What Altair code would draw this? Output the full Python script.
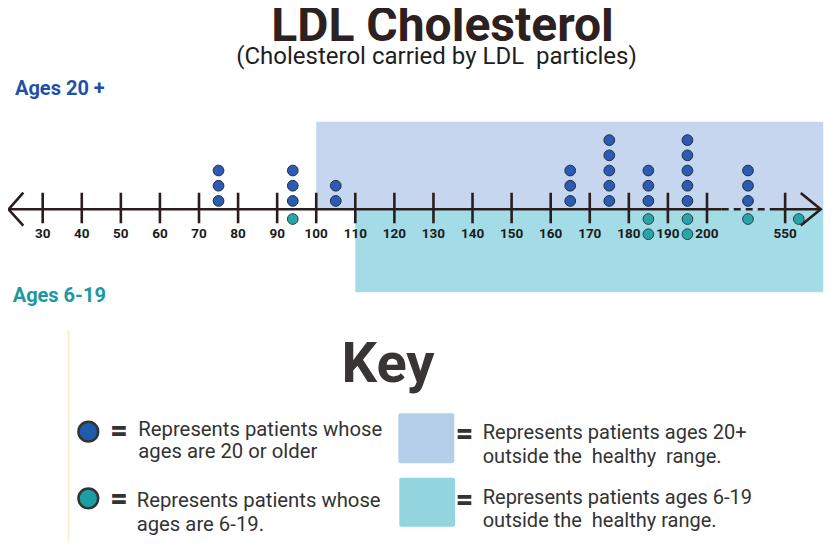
import altair as alt
import pandas as pd

# ---------------- data (positions on the broken number line; 220 stands for 550) -------------
adult_pos = [75, 94, 105, 165, 175, 185, 195, 210.5]
adult_n = [3, 3, 2, 3, 5, 3, 5, 3]
child_pos = [94, 185, 195, 210.5, 223.5]
child_n = [1, 2, 2, 1, 1]
tick_pos = [30, 40, 50, 60, 70, 80, 90, 100, 110, 120, 130, 140, 150, 160, 170, 180, 190, 200, 220]
tick_labels = ["30", "40", "50", "60", "70", "80", "90", "100", "110", "120", "130", "140",
               "150", "160", "170", "180", "190", "200", "550"]
adult_high = [100, 229.76]   # outside healthy range, ages 20+
child_high = [110, 229.76]   # outside healthy range, ages 6-19

# ---------------- tables --------------------------------------------------------------------
dot_rows = []
for p, n in zip(adult_pos, adult_n):
    for k in range(1, n + 1):
        dot_rows.append({"pos": p, "level": k - 0.45, "group": "adult"})
for p, n in zip(child_pos, child_n):
    for k in range(1, n + 1):
        dot_rows.append({"pos": p, "level": -(k - 0.36), "group": "child"})
dots = pd.DataFrame(dot_rows)

ticks = pd.DataFrame({"pos": tick_pos, "label": tick_labels})

X = alt.Scale(domain=[21.12, 230.97], nice=False, zero=False)
Y = alt.Scale(domain=[-22.283, 13.243], nice=False, zero=False)

INK = "#2b1d1d"
NB = "\u00a0"


def xq(f):
    return alt.X(f, type="quantitative", scale=X, axis=None)


def yq(f):
    return alt.Y(f, type="quantitative", scale=Y, axis=None)


rect_adult = alt.Chart(pd.DataFrame({"a": [adult_high[0]], "b": [adult_high[1]], "lo": [0], "hi": [5.763]})).mark_rect(
    color="#c6d6ee").encode(x=xq("a"), x2="b", y=yq("lo"), y2="hi")
rect_child = alt.Chart(pd.DataFrame({"a": [child_high[0]], "b": [child_high[1]], "lo": [-5.46], "hi": [0]})).mark_rect(
    color="#a3dce7").encode(x=xq("a"), x2="b", y=yq("lo"), y2="hi")

line_solid = alt.Chart(pd.DataFrame({"a": [21.25, 216.12], "b": [203.77, 229.1], "y": [0, 0]})).mark_rule(
    color=INK, strokeWidth=2.6).encode(x=xq("a"), x2="b", y=yq("y"))
line_dash = alt.Chart(pd.DataFrame({"a": [203.77], "b": [216.12], "y": [0]})).mark_rule(
    color=INK, strokeWidth=2.6, strokeDash=[7, 5]).encode(x=xq("a"), x2="b", y=yq("y"))

tick_marks = alt.Chart(ticks).transform_calculate(lo="-0.92", hi="1.09").mark_rule(
    color=INK, strokeWidth=2.6).encode(x=xq("pos"), y=yq("lo"), y2="hi")

arrows = alt.Chart(pd.DataFrame({
    "pos": [25.04, 21.25, 25.04, 224.0, 229.1, 224.0],
    "lev": [1.09, 0, -1.07, 1.07, 0, -1.07],
    "arrow": ["L", "L", "L", "R", "R", "R"],
    "o": [0, 1, 2, 0, 1, 2]})).mark_line(color=INK, strokeWidth=2.6).encode(
    x=xq("pos"), y=yq("lev"), detail="arrow:N", order="o:Q")

tick_text = alt.Chart(ticks).transform_calculate(ly="-1.89").mark_text(
    font="Roboto", fontWeight="bold", fontSize=13.5, color="#1a1a1a", baseline="alphabetic").encode(
    x=xq("pos"), y=yq("ly"), text="label:N")

dot_adult = alt.Chart(dots).transform_filter("datum.group == 'adult'").mark_point(
    filled=True, shape="circle", size=115, fill="#2b5cb1", stroke="#1d2d4d", strokeWidth=1, opacity=1).encode(
    x=xq("pos"), y=yq("level"))
dot_child = alt.Chart(dots).transform_filter("datum.group == 'child'").mark_point(
    filled=True, shape="circle", size=115, fill="#2ba3a7", stroke="#29434a", strokeWidth=1, opacity=1).encode(
    x=xq("pos"), y=yq("level"))


# ---------------- annotations & key ---------------------------------------------------------
def label(text, x, y, **kw):
    base = dict(font="Roboto", baseline="alphabetic", align="left")
    base.update(kw)
    return alt.Chart(pd.DataFrame({"t": [text]})).mark_text(**base).encode(
        x=alt.value(x), y=alt.value(y), text="t:N")


annots = [
    label("LDL Cholesterol", 434.5, 32.5, fontSize=48, fontWeight="bold", color="#2d2020", align="center"),
    label("(Cholesterol carried by LDL" + NB + NB + "particles)", 428.5, 56, fontSize=24, color="#1e1e1e",
          align="center"),
    label("Ages 20 +", 7, 87, fontSize=20, fontWeight="bold", color="#1f4fa7"),
    label("Ages 6-19", 4.7, 294.3, fontSize=20, fontWeight="bold", color="#1d97a1"),
    label("Key", 380, 373.7, fontSize=56, fontWeight="bold", color="#3a3535", align="center"),
    label("=", 111, 423, fontSize=30, fontWeight=900, color="#333333", align="center", baseline="middle"),
    label("=", 111, 491, fontSize=30, fontWeight=900, color="#333333", align="center", baseline="middle"),
    label("=", 456.5, 426.3, fontSize=30, fontWeight=900, color="#333333", align="center", baseline="middle"),
    label("=", 456.5, 492, fontSize=30, fontWeight=900, color="#333333", align="center", baseline="middle"),
    label("Represents patients whose", 130.3, 428, fontSize=20.3, color="#333333"),
    label("ages are 20 or older", 130.3, 450, fontSize=20.3, color="#333333"),
    label("Represents patients whose", 128.7, 498.7, fontSize=20.3, color="#333333"),
    label("ages are 6-19.", 128.7, 522.5, fontSize=20.3, color="#333333"),
    label("Represents patients ages 20+", 474.7, 431.3, fontSize=20, color="#333333"),
    label("outside the" + NB + NB + "healthy" + NB + NB + "range.", 474.7, 455.3, fontSize=20, color="#333333"),
    label("Represents patients ages 6-19", 474.7, 496.3, fontSize=20, color="#333333"),
    label("outside the" + NB + NB + "healthy" + NB + "range.", 474.7, 518.7, fontSize=20, color="#333333"),
]

one = pd.DataFrame({"k": [0]})
key_marks = [
    alt.Chart(one).mark_rule(color="#fcefc9", strokeWidth=2).encode(
        x=alt.value(60.5), y=alt.value(322), y2=alt.value(533)),
    alt.Chart(one).mark_rect(color="#b5cfeb", cornerRadius=2).encode(
        x=alt.value(390.3), x2=alt.value(446.3), y=alt.value(405.3), y2=alt.value(455.3)),
    alt.Chart(one).mark_rect(color="#93d5df", cornerRadius=2).encode(
        x=alt.value(391.3), x2=alt.value(447), y=alt.value(469.7), y2=alt.value(518.7)),
    alt.Chart(one).mark_point(filled=True, shape="circle", size=390, fill="#1e5bab", stroke="#333333",
                              strokeWidth=2.5, opacity=1).encode(x=alt.value(80.3), y=alt.value(423.7)),
    alt.Chart(one).mark_point(filled=True, shape="circle", size=390, fill="#1b9fa5", stroke="#333333",
                              strokeWidth=2.5, opacity=1).encode(x=alt.value(80.3), y=alt.value(490.3)),
]

chart = alt.layer(
    rect_adult, rect_child, line_solid, line_dash, tick_marks, arrows, dot_adult, dot_child, tick_text,
    *key_marks, *annots
).properties(
    width=820, height=540, autosize=alt.AutoSizeParams(type="none"), padding=0, background="white"
).configure_view(stroke=None)

chart.save("out.html", embed_options={"renderer": "svg", "actions": False})
